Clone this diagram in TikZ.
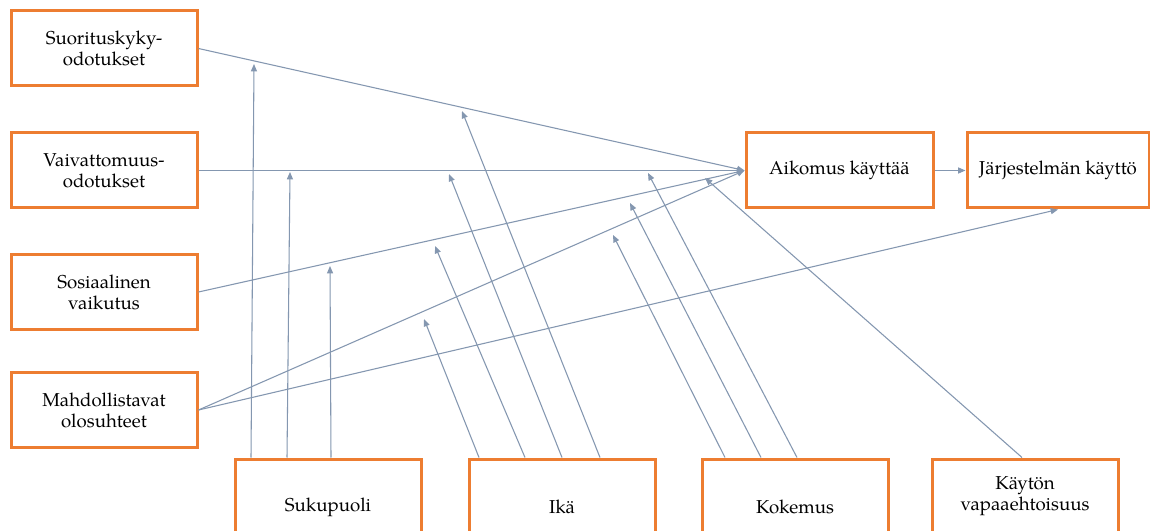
\documentclass[tikz,border=0pt]{standalone}
\usepackage{fontspec}
\setmainfont{TeX Gyre Pagella}
\usetikzlibrary{arrows.meta,calc}
\definecolor{accent}{RGB}{237,125,49}
\definecolor{slate}{RGB}{132,151,176}

\begin{document}
\begin{tikzpicture}[x=0.75pt,y=-0.75pt,
    box/.style={draw=accent,line width=2.25pt,fill=white,minimum width=139.5pt,minimum height=56.25pt,
      align=center,inner sep=2pt,font=\fontsize{14}{15.75}\selectfont},
    link/.style={slate,line width=0.8pt,-{Triangle[length=5.5pt,width=4.5pt]}}]
  \useasboundingbox (0,0) rectangle (1150,531);
  \fill[white] (0,0) rectangle (1150,531);
  % determinants
  \node[box] (suo) at (104,48.5) {Suorituskyky-\\odotukset};
  \node[box] (vai) at (104,170.5) {Vaivattomuus-\\odotukset};
  \node[box] (sos) at (104,292) {Sosiaalinen\\vaikutus};
  \node[box] (mah) at (104,410) {Mahdollistavat\\olosuhteet};
  % outcomes
  \node[box,minimum width=140.25pt] (aik) at (839.5,170.5) {Aikomus käyttää};
  \node[box,minimum width=136.5pt] (jar) at (1058,170.5) {Järjestelmän käyttö};
  % moderators
  \node[box,minimum height=72pt] (suk) at (328,507) {Sukupuoli};
  \node[box,minimum height=72pt] (ika) at (562,507) {Ikä};
  \node[box,minimum height=72pt] (kok) at (795,507) {Kokemus};
  \node[box] (kay) at (1025,496.5) {Käytön\\vapaaehtoisuus};

  \draw[link] (suo.east) -- (aik.west);
  \draw[link] (vai.east) -- (aik.west);
  \draw[link] (sos.east) -- (aik.west);
  \draw[link] (mah.east) -- (aik.west);
  \draw[link] (mah.east) -- (jar.south);
  \draw[link] (aik.east) -- (jar.west);

  % where the moderator arrows stop
  \coordinate (sukA) at (254,64);
  \coordinate (sukB) at (290,172);
  \coordinate (sukC) at (330,266);
  \coordinate (ikaA) at (424,319);
  \coordinate (ikaB) at (435,246);
  \coordinate (ikaC) at (449,174);
  \coordinate (ikaD) at (462,111);
  \coordinate (kokA) at (613,235);
  \coordinate (kokB) at (630,203);
  \coordinate (kokC) at (648,173);
  \coordinate (kayA) at (705,178);

  \foreach \dx/\t in {-77/sukA,-41/sukB,3/sukC}{
    \draw[link] ($(suk.north)+(\dx,0)$) -- (\t);
  }
  \foreach \dx/\t in {-83/ikaA,-37/ikaB,0/ikaC,38/ikaD}{
    \draw[link] ($(ika.north)+(\dx,0)$) -- (\t);
  }
  \foreach \dx/\t in {-70/kokA,-34/kokB,2/kokC}{
    \draw[link] ($(kok.north)+(\dx,0)$) -- (\t);
  }
  \draw[link] ($(kay.north)+(-3,0)$) -- (kayA);
\end{tikzpicture}
\end{document}
